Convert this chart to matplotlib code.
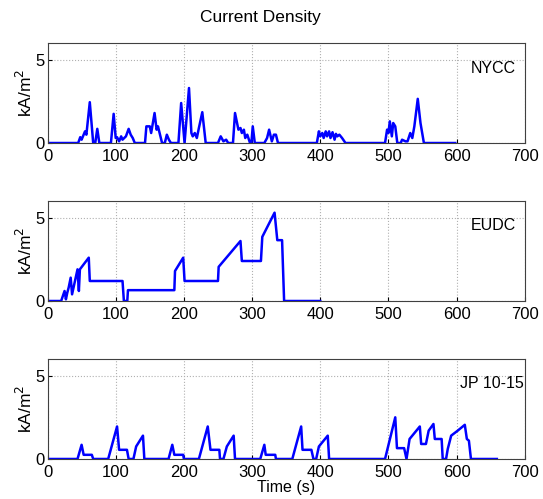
import matplotlib
matplotlib.use('Agg')
import matplotlib.pyplot as plt

plt.rcParams['font.family'] = ['Liberation Sans', 'DejaVu Sans']

# NYCC cycle (time s, current density kA/m^2)
nycc_t = [0, 45, 48, 50, 52, 55, 57, 62, 67, 70, 73, 76, 93, 97, 100, 102, 105, 108, 110, 115, 119, 122,
          125, 128, 143, 145, 150, 152, 157, 160, 162, 165, 168, 172, 175, 178, 181, 192, 196, 201, 207.5,
          211, 213, 216, 219, 222, 227, 232, 250, 254, 258, 262, 265, 272, 275, 280, 283, 285, 288, 290,
          293, 297, 299, 301, 304, 318, 322, 325, 329, 332, 335, 338, 395, 398, 400, 403, 405, 408, 410,
          413, 415, 418, 421, 423, 425, 428, 432, 437, 495, 498, 500, 502, 505, 507, 510, 513, 518, 520,
          525, 528, 532, 535, 538, 543, 547, 552, 598]
nycc_v = [0, 0, 0.35, 0.2, 0.4, 0.7, 0.5, 2.45, 0, 0, 0.85, 0, 0, 1.75, 0.3, 0.35, 0.1, 0.4, 0.2, 0.4,
          0.85, 0.5, 0.3, 0, 0, 1.0, 1.0, 0.6, 1.8, 0.8, 1.0, 0.5, 0, 0, 0.5, 0.2, 0, 0, 2.4, 0, 3.3,
          0.6, 0.4, 0.6, 0.3, 0.9, 1.85, 0, 0, 0.4, 0.1, 0.2, 0, 0, 1.8, 0.8, 0.9, 0.6, 0.8, 0.3,
          0.5, 0, 0, 1.0, 0, 0, 0.3, 0.8, 0.1, 0.5, 0.5, 0, 0, 0.7, 0.4, 0.6, 0.3, 0.7, 0.4,
          0.7, 0.3, 0.65, 0.2, 0.55, 0.4, 0.5, 0.3, 0, 0, 0.8, 0.6, 1.3, 0.4, 1.2, 1.0, 0, 0, 0.2,
          0.1, 0.1, 0.6, 0.3, 1.0, 2.65, 1.2, 0, 0]

# EUDC cycle
eudc_t = [0, 20, 25, 27, 29, 31, 34, 36, 44, 46, 47.5, 60.5, 62, 110, 112, 117, 118, 186, 187, 199,
          201, 250, 251, 283, 285, 313, 315, 333, 337, 344, 347, 400]
eudc_v = [0, 0, 0.6, 0.1, 0.5, 0.8, 1.4, 0.4, 1.9, 0.6, 1.9, 2.6, 1.2, 1.2, 0, 0, 0.65, 0.65, 1.8,
          2.6, 1.2, 1.2, 2.05, 3.6, 2.4, 2.4, 3.85, 5.3, 3.65, 3.65, 0, 0]

# JP 10-15 mode
jp_t = [0, 44, 50, 53, 65, 67, 89, 102, 105, 116.5, 119, 126, 130, 140, 142, 177.5, 183, 186, 199, 200,
        222, 235, 239, 252, 253, 258, 263, 273, 275, 312, 318, 320, 334, 335, 359, 372, 374, 387, 390,
        394, 398, 411, 413, 495, 510, 512.5, 523, 526.5, 531, 546, 548, 555, 559, 566, 568, 578, 579.6,
        584.5, 587, 592, 601.6, 612, 615, 618, 621, 659]
jp_v = [0, 0, 0.85, 0.25, 0.25, 0, 0, 1.95, 0.55, 0.55, 0, 0, 0.75, 1.4, 0, 0, 0.85, 0.25, 0.25, 0,
        0, 1.95, 0.55, 0.55, 0, 0, 0.75, 1.4, 0, 0, 0.85, 0.25, 0.25, 0, 0, 1.95, 0.55, 0.55, 0,
        0, 0.75, 1.4, 0, 0, 2.5, 0.65, 0.65, 0, 1.2, 1.95, 0.9, 0.9, 1.7, 2.1, 1.2, 1.2, 0,
        0, 0.6, 1.4, 1.7, 2.05, 1.2, 1.1, 0, 0]

cycles = [('NYCC', nycc_t, nycc_v, 620), ('EUDC', eudc_t, eudc_v, 620), ('JP 10-15', jp_t, jp_v, 605)]
xticks = [0, 100, 200, 300, 400, 500, 600, 700]

fig = plt.figure(figsize=(5.43, 4.99), dpi=100)
bottoms = [0.7134, 0.3968, 0.0802]

for (name, t, v, tx), b in zip(cycles, bottoms):
    ax = fig.add_axes([0.0875, b, 0.879, 0.2004])
    ax.plot(t, v, color='#0000ff', linewidth=1.8)
    ax.set_xlim(0, 700)
    ax.set_ylim(0, 6)
    ax.set_xticks(xticks)
    ax.set_yticks([0, 5])
    ax.grid(True, linestyle=':', color='#b0b0b0', linewidth=0.8)
    ax.tick_params(direction='in', labelsize=12, length=3)
    ax.tick_params(axis='x', pad=4)
    ax.tick_params(axis='y', pad=2)
    ax.set_ylabel('kA/m$^2$', fontsize=12.5, labelpad=0)
    ax.text(tx, 4.5, name, fontsize=11.5, va='center', ha='left')
    for s in ax.spines.values():
        s.set_color('#404040')

ax.set_xlabel('Time (s)', fontsize=11.5, labelpad=0)
fig.text(0.48, 0.965, 'Current Density', fontsize=12.5, ha='center', va='center')

plt.savefig('out.png')
